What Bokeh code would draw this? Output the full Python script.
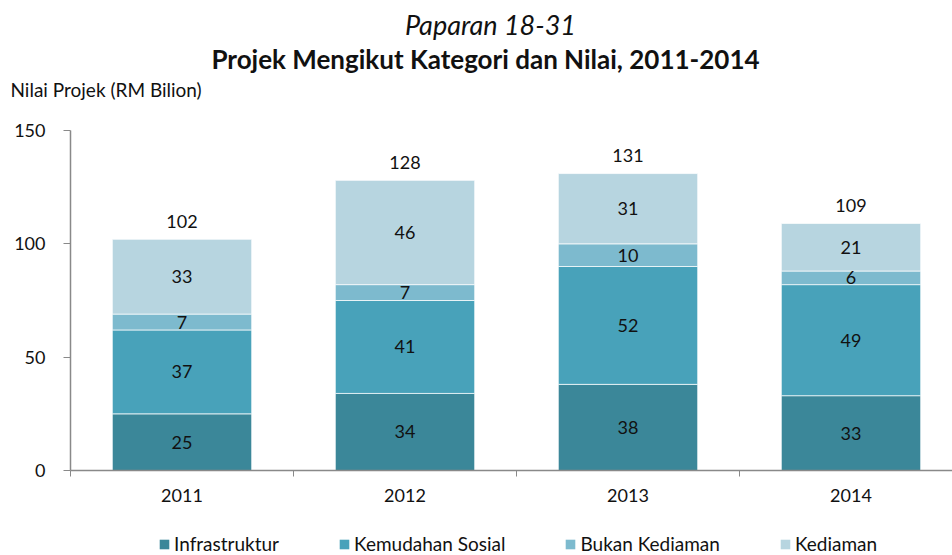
from bokeh.plotting import figure
from bokeh.models import (ColumnDataSource, Range1d, FixedTicker, Label, Title, Legend, LegendItem)
from bokeh.layouts import column
from bokeh.core.properties import value
from bokeh.embed import file_html
from bokeh.resources import INLINE

years = ["2011", "2012", "2013", "2014"]
infrastruktur = [25, 34, 38, 33]
kemudahan_sosial = [37, 41, 52, 49]
bukan_kediaman = [7, 7, 10, 6]
kediaman = [33, 46, 31, 21]
series_names = ["Infrastruktur", "Kemudahan Sosial", "Bukan Kediaman", "Kediaman"]
colors = ["#3B8799", "#48A2BA", "#7DBACE", "#B7D5E0"]
y_ticks = [0, 50, 100, 150]

FONT = "Lato"
TXT = "#111111"
xs = [i + 1 for i in range(len(years))]
keys = ["infra", "kemud", "bukan", "kedi"]
series = [infrastruktur, kemudahan_sosial, bukan_kediaman, kediaman]
data = {"x": xs}
for k, s in zip(keys, series):
    data[k] = s
source = ColumnDataSource(data)


def blank(fig):
    fig.outline_line_color = None
    fig.xaxis.visible = False
    fig.yaxis.visible = False
    fig.xgrid.visible = False
    fig.ygrid.visible = False


# ---- header strip with the titles (frame is aligned with the chart frame) ----
hd = figure(width=952, height=100, output_backend="svg", toolbar_location=None,
            x_range=Range1d(0, 1), y_range=Range1d(0, 1),
            min_border_left=0, min_border_right=0, min_border_top=0, min_border_bottom=0)
blank(hd)
hd.add_layout(Title(text="Nilai Projek (RM Bilion)", align="left", offset=-60,
                    text_font=FONT, text_font_style="normal", text_font_size="19px",
                    text_color=TXT, standoff=0), "below")
hd.add_layout(Label(x=420, y=51, x_units="screen", y_units="screen", text="Paparan 18-31",
                    text_align="center", text_baseline="middle", text_font=FONT,
                    text_font_style="italic", text_font_size="27px", text_color=TXT))
hd.add_layout(Label(x=415, y=17, x_units="screen", y_units="screen",
                    text="Projek Mengikut Kategori dan Nilai, 2011-2014",
                    text_align="center", text_baseline="middle", text_font=FONT,
                    text_font_style="bold", text_font_size="26px", text_color=TXT))

# ---- main chart ----
p = figure(width=952, height=425, output_backend="svg", toolbar_location=None,
           x_range=Range1d(0.5, 0.5 + 882 / 223), y_range=Range1d(0, 150),
           min_border_left=70, min_border_right=0, min_border_top=30, min_border_bottom=55)
p.outline_line_color = None
p.xgrid.visible = False
p.ygrid.visible = False

renderers = p.vbar_stack(keys, x="x", width=0.625, color=colors, source=source,
                         line_color="white", line_alpha=0.7, line_width=1)

lx, ly, lt = [], [], []
for i in range(len(years)):
    base = 0
    for s in series:
        lx.append(xs[i]); ly.append(base + s[i] / 2); lt.append(str(s[i]))
        base += s[i]
p.text(x=lx, y=ly, text=lt, text_align="center", text_baseline="middle",
       text_font=value(FONT), text_font_size="18px", text_color=TXT)

totals = [sum(s[i] for s in series) for i in range(len(years))]
p.text(x=xs, y=totals, text=[str(t) for t in totals], text_align="center", text_baseline="middle",
       y_offset=-18, text_font=value(FONT), text_font_size="18px", text_color=TXT)

ax = p.xaxis[0]
ax.ticker = FixedTicker(ticks=xs, minor_ticks=[x - 0.5 for x in xs])
ax.major_label_overrides = {x: y for x, y in zip(xs, years)}
ax.major_tick_out = 0
ax.major_tick_in = 0
ax.minor_tick_out = 6
ax.minor_tick_in = 0
ax.minor_tick_line_color = "#898989"
ax.axis_line_color = "#898989"
ax.axis_line_width = 1.5
ax.major_label_text_font = FONT
ax.major_label_text_font_size = "18px"
ax.major_label_text_color = TXT
ax.major_label_standoff = 12

ay = p.yaxis[0]
ay.ticker = FixedTicker(ticks=y_ticks)
ay.minor_tick_line_color = None
ay.major_tick_out = 7
ay.major_tick_in = 0
ay.major_tick_line_color = "#898989"
ay.axis_line_color = "#898989"
ay.axis_line_width = 1.5
ay.major_label_text_font = FONT
ay.major_label_text_font_size = "18px"
ay.major_label_text_color = TXT
ay.major_label_standoff = 18

# ---- legend strip (hidden copies of the stacked series feed the legend swatches) ----
lg = figure(width=952, height=30, output_backend="svg", toolbar_location=None,
            x_range=Range1d(0, 1), y_range=Range1d(0, 1),
            min_border_left=0, min_border_right=0, min_border_top=0, min_border_bottom=0)
blank(lg)
proxies = lg.vbar_stack(keys, x="x", width=0.625, color=colors, source=source, line_color=None)
for r in proxies:
    r.visible = False
legend = Legend(items=[LegendItem(label=n, renderers=[r]) for n, r in zip(series_names, proxies)],
                orientation="horizontal", location=(88, 0), glyph_width=12, glyph_height=12,
                label_standoff=4, spacing=59, padding=0, margin=0, border_line_color=None,
                background_fill_alpha=0, label_text_font=FONT, label_text_font_size="19px",
                label_text_color=TXT, label_height=20, inactive_fill_alpha=0)
lg.add_layout(legend, "center")

layout = column(hd, p, lg, spacing=0)
open("out.html", "w").write(file_html(layout, INLINE))
